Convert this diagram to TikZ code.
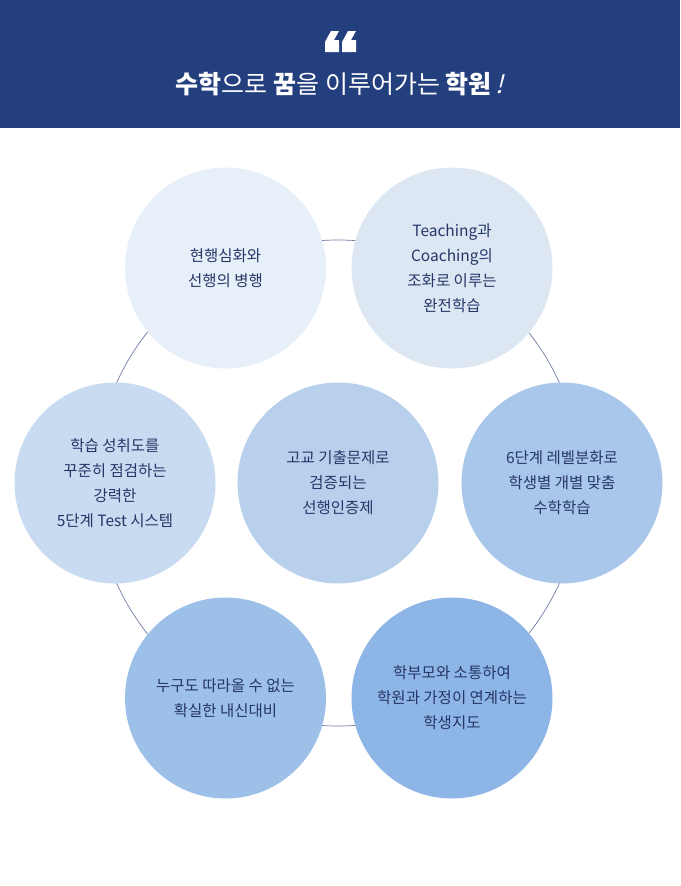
\documentclass[tikz,border=0pt]{standalone}
\usepackage{fontspec}
\usepackage{tikz}
\usetikzlibrary{positioning}
\setmainfont{Noto Sans CJK KR}
\newfontfamily\slantfont[FakeSlant=0.25]{Noto Sans CJK KR}
\definecolor{navy}{HTML}{243F7E}
\definecolor{inkblue}{HTML}{263668}
\definecolor{ringline}{HTML}{6E7CA6}
\definecolor{blueA}{HTML}{E7EFF8}
\definecolor{blueB}{HTML}{DCE7F3}
\definecolor{blueC}{HTML}{C9DBF1}
\definecolor{blueD}{HTML}{B8D0EC}
\definecolor{blueE}{HTML}{A9C7EA}
\definecolor{blueF}{HTML}{9DC0E9}
\definecolor{blueG}{HTML}{8DB5E6}

\begin{document}
\begin{tikzpicture}[x=1pt, y=-1pt,
    bubble/.style={circle, minimum size=201pt, inner sep=0pt, text=inkblue,
        align=center, font=\fontsize{15.5}{25}\selectfont},
    ring/.style={draw=ringline, line width=0.7pt}]
    \useasboundingbox (0,0) rectangle (680,886);

    % Header
    \fill[navy] (0,0) rectangle (680,128);
    % Quote mark
    \foreach \dx in {0,17}
        \fill[white, xshift=\dx] (325,52) -- (325,42) -- (331,31) -- (339,31)
            -- (334,40) -- (339,40) -- (339,52) -- cycle;
    \node[text=white, font=\fontsize{25}{25}\selectfont] (title) at (340,84)
        {\textbf{수학}으로 \textbf{꿈}을 이루어가는 \textbf{학원}\,{\slantfont !}};

    % Ring behind the bubbles
    \coordinate (hub) at (338,483);
    \draw[ring] (hub) circle[radius=243];

    % Bubbles
    \node[bubble, fill=blueA] (deep) at (225.5,268) {현행심화와\\선행의 병행};
    \node[bubble, fill=blueB] (coach) at (452,268) {Teaching과\\Coaching의\\조화로 이루는\\완전학습};
    \node[bubble, fill=blueC] (test) at (115,483) {학습 성취도를\\꾸준히 점검하는\\강력한\\5단계 Test 시스템};
    \node[bubble, fill=blueD] (proof) at (338,483) {고교 기출문제로\\검증되는\\선행인증제};
    \node[bubble, fill=blueE] (level) at (562,483) {6단계 레벨분화로\\학생별 개별 맞춤\\수학학습};
    \node[bubble, fill=blueF] (exam) at (225.5,698) {누구도 따라올 수 없는\\확실한 내신대비};
    \node[bubble, fill=blueG] (parent) at (452,698) {학부모와 소통하여\\학원과 가정이 연계하는\\학생지도};
\end{tikzpicture}
\end{document}
